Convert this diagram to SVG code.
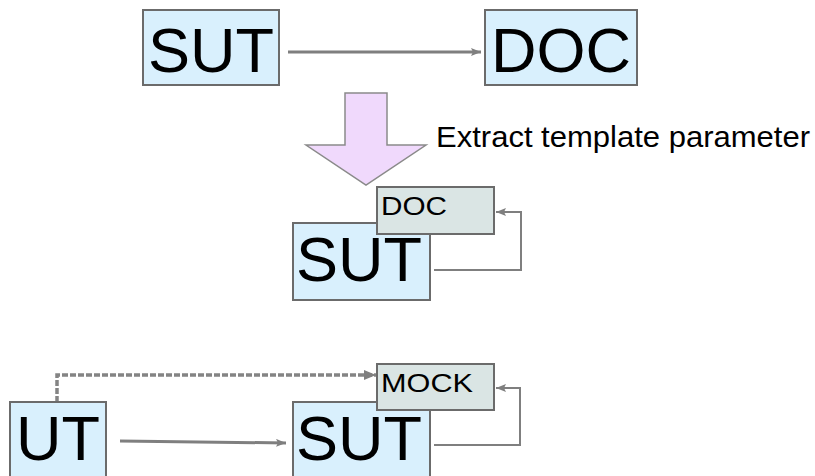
<svg xmlns="http://www.w3.org/2000/svg" width="815" height="476" viewBox="0 0 815 476">
  <style>
    .box { fill: #d9f0fd; stroke: #6b6b6b; stroke-width: 2; }
    .sub { fill: #dae5e4; stroke: #6b6b6b; stroke-width: 2; }
    .big { font-family: "Liberation Sans", Arial, sans-serif; font-size: 63px; fill: #000; }
    .small { font-family: "Liberation Sans", Arial, sans-serif; font-size: 26.5px; fill: #000; }
    .label { font-family: "Liberation Sans", Arial, sans-serif; font-size: 29px; fill: #000; }
    .wire { fill: none; stroke: #7f7f7f; stroke-width: 3; }
    .loop { fill: none; stroke: #7f7f7f; stroke-width: 2; }
    .dash { fill: none; stroke: #848484; stroke-width: 3.5; stroke-dasharray: 6 2; }
  </style>
  <defs>
    <marker id="head" viewBox="0 0 10 8" refX="10" refY="4" markerWidth="10" markerHeight="8" markerUnits="userSpaceOnUse" orient="auto">
      <path d="M0,0 L10,4 L0,8 L2,4 Z" fill="#7f7f7f"/>
    </marker>
    <marker id="headDash" viewBox="0 0 12 10" refX="12" refY="5" markerWidth="12" markerHeight="10" markerUnits="userSpaceOnUse" orient="auto">
      <path d="M0,0 L12,5 L0,10 Z" fill="#7f7f7f"/>
    </marker>
  </defs>

  <!-- connectors -->
  <g id="connectors">
    <path class="wire" d="M288,52 L481,52" marker-end="url(#head)"/>
    <path class="loop" d="M434,270 L521,270 L521,212 L496,212" marker-end="url(#head)"/>
    <path class="wire" d="M120,441 L286,443" marker-end="url(#head)"/>
    <path class="dash" d="M57,402 L57,375 L376,375" marker-end="url(#headDash)"/>
    <path class="loop" d="M434,445 L520,445 L520,388 L496,388" marker-end="url(#head)"/>
  </g>

  <!-- top row -->
  <g id="sut-top">
    <rect class="box" x="143" y="10" width="136" height="75"/>
    <text class="big" x="211" y="72" text-anchor="middle">SUT</text>
  </g>
  <g id="doc-top">
    <rect class="box" x="485" y="10" width="152" height="75"/>
    <text class="big" x="561" y="72" text-anchor="middle">DOC</text>
  </g>

  <!-- refactoring step -->
  <g id="extract">
    <path d="M345,93 L387,93 L387,145 L426,145 L366,185 L306,145 L345,145 Z" fill="#f0d9fc" stroke="#8a8a8a" stroke-width="1.5"/>
    <text class="label" x="436" y="147" textLength="374" lengthAdjust="spacingAndGlyphs">Extract template parameter</text>
  </g>

  <!-- SUT with DOC template parameter -->
  <g id="sut-mid">
    <rect class="box" x="293" y="223" width="137" height="77"/>
    <text class="big" x="359" y="281" text-anchor="middle">SUT</text>
  </g>
  <g id="doc-mid">
    <rect class="sub" x="377" y="187" width="117" height="47"/>
    <text class="small" x="381" y="215" textLength="66" lengthAdjust="spacingAndGlyphs">DOC</text>
  </g>

  <!-- test setup -->
  <g id="ut">
    <rect class="box" x="10" y="402" width="96" height="80"/>
    <text class="big" x="58" y="460" text-anchor="middle">UT</text>
  </g>
  <g id="sut-bottom">
    <rect class="box" x="293" y="402" width="137" height="80"/>
    <text class="big" x="359" y="460" text-anchor="middle">SUT</text>
  </g>
  <g id="mock">
    <rect class="sub" x="377" y="364" width="117" height="46"/>
    <text class="small" x="381" y="392" textLength="92" lengthAdjust="spacingAndGlyphs">MOCK</text>
  </g>
</svg>
